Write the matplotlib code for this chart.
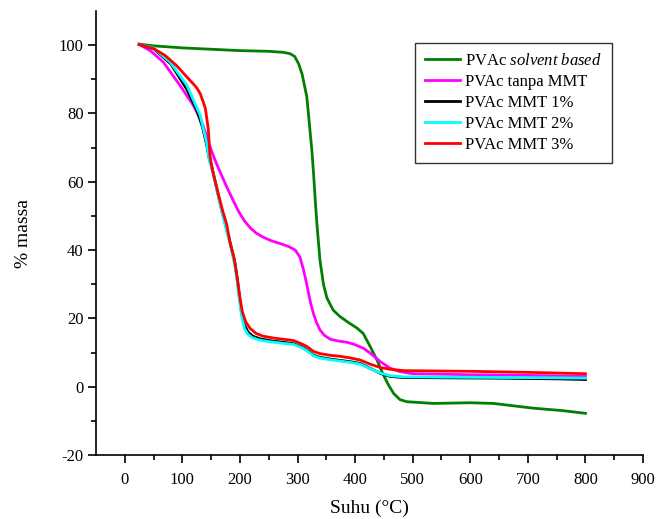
import numpy as np
import matplotlib
matplotlib.use("Agg")
import matplotlib.pyplot as plt

plt.rcParams['font.family'] = ['Liberation Serif', 'DejaVu Serif']
plt.rcParams['mathtext.fontset'] = 'custom'
plt.rcParams['mathtext.rm'] = 'Liberation Serif'
plt.rcParams['mathtext.it'] = 'Liberation Serif:italic'
plt.rcParams['axes.unicode_minus'] = False

# PVAc solvent based
x_solvent = [25, 50, 100, 150, 200, 250, 275, 287, 295, 302, 308, 316, 320, 325, 328, 331, 334, 339, 345,
             351, 362, 374, 391, 403, 414, 426, 438, 449, 458, 467, 478, 490, 536, 600, 640, 710, 760, 800]
y_solvent = [100.3, 99.8, 99.2, 98.8, 98.4, 98.2, 97.9, 97.5, 96.7, 94.5, 91.5, 85, 78, 69, 62, 54, 47, 37, 30,
             26, 22.4, 20.5, 18.5, 17.2, 15.6, 11.8, 7.8, 3.5, 0.5, -2, -3.8, -4.4, -4.9, -4.7, -4.9, -6.3, -7.0, -7.8]

# PVAc tanpa MMT
x_tanpa = [25, 45, 67, 96, 119, 133, 142, 150, 158, 167, 177, 188, 198, 208, 218, 228, 240, 255, 270,
           285, 296, 304, 310, 315, 319, 323, 328, 333, 339, 347, 357, 370, 386, 400, 415, 428, 444, 461,
           478, 500, 600, 700, 800]
y_tanpa = [100.2, 98.3, 95, 88.2, 82.4, 77.8, 73.5, 69.3, 65.8, 62.3, 58.5, 54.6, 51.2, 48.5, 46.5, 45,
           43.8, 42.7, 41.9, 41.0, 40.0, 38, 34.5, 30.8, 27.5, 24.3, 21.2, 18.8, 16.6, 15, 13.9, 13.4,
           13, 12.3, 11.2, 9.6, 7.3, 5.4, 4.4, 3.8, 3.5, 3.3, 3.0]

# PVAc MMT 1%
x_mmt1 = [25, 50, 80, 108, 125, 135, 142, 147, 151, 157, 163, 170, 177, 184, 191, 195, 199, 203, 208,
          214, 222, 235, 255, 275, 293, 305, 316, 328, 339, 356, 374, 392, 409, 426, 444, 461, 484, 550,
          650, 750, 800]
y_mmt1 = [100.2, 99, 94.5, 87, 81, 76, 71, 66.5, 64.5, 60, 55.6, 50.5, 46, 41.5, 36.5, 32, 26.5, 21.5,
          18, 16, 14.8, 14.0, 13.4, 13.0, 12.6, 11.8, 10.8, 9.2, 8.6, 8.1, 7.7, 7.3, 6.8, 5.4, 3.9, 3.0,
          2.7, 2.6, 2.5, 2.3, 2.1]

# PVAc MMT 2%
x_mmt2 = [25, 50, 79, 108, 131, 142, 147, 151, 157, 163, 170, 177, 184, 191, 195, 199, 203, 208, 214,
          222, 235, 255, 275, 293, 305, 316, 328, 339, 356, 374, 392, 409, 426, 444, 461, 484, 550, 650,
          750, 800]
y_mmt2 = [100.2, 99.2, 95, 88.2, 79.4, 71.6, 66, 64, 59.8, 55.2, 50.2, 45.6, 41, 35.5, 31, 25.5, 20.5,
          17, 15.3, 14.3, 13.6, 13.1, 12.7, 12.4, 11.6, 10.6, 9.0, 8.4, 7.9, 7.5, 7.1, 6.6, 5.3, 4.0,
          3.2, 2.9, 2.8, 2.7, 2.6, 2.5]

# PVAc MMT 3%
x_mmt3 = [25, 50, 70, 90, 105, 116, 125, 131, 136, 140, 145, 148, 152, 158, 163, 170, 177, 183, 190,
          196, 200, 204, 210, 218, 228, 240, 260, 280, 293, 305, 316, 328, 339, 356, 374, 392, 409, 426,
          444, 461, 484, 600, 700, 800]
y_mmt3 = [100.2, 99, 97, 94, 91.2, 89.2, 87.5, 85.8, 83.5, 81.4, 75.5, 67.5, 63.5, 59.5, 56, 51.5, 47.5,
          42, 37.5, 31, 26, 22, 19, 17, 15.6, 14.8, 14.2, 13.8, 13.5, 12.7, 11.8, 10.3, 9.7, 9.2, 8.9,
          8.4, 7.8, 6.6, 5.6, 5.1, 4.7, 4.5, 4.2, 3.8]

fig = plt.figure(figsize=(6.64, 5.19), dpi=100)
ax = fig.add_axes([96/664, 1-455/519, (643-96)/664, (455-11)/519])

lw = 2.0
ax.plot(x_solvent, y_solvent, color='#008000', lw=lw, label='PVAc $\\it{solvent\\ based}$')
ax.plot(x_tanpa, y_tanpa, color='#ff00ff', lw=lw, label='PVAc tanpa MMT')
ax.plot(x_mmt1, y_mmt1, color='black', lw=lw, label='PVAc MMT 1%')
ax.plot(x_mmt2, y_mmt2, color='#00ffff', lw=lw, label='PVAc MMT 2%')
ax.plot(x_mmt3, y_mmt3, color='#ff0000', lw=lw, label='PVAc MMT 3%')

ax.set_xlim(-50, 900)
ax.set_ylim(-20, 110)
ax.set_xticks(np.arange(0, 901, 100))
ax.set_xticks(np.arange(50, 900, 100), minor=True)
ax.set_yticks(np.arange(-20, 101, 20))
ax.set_yticks(np.arange(-10, 100, 20), minor=True)
ax.tick_params(which='major', direction='out', length=6, width=1.2, labelsize=12, pad=3)
ax.tick_params(which='minor', direction='out', length=3.5, width=1.2)
ax.tick_params(axis='x', pad=6)

for s in ['top', 'right']:
    ax.spines[s].set_visible(False)
for s in ['left', 'bottom']:
    ax.spines[s].set_linewidth(1.2)

ax.set_xlabel('Suhu (°C)', fontsize=14, labelpad=9)
ax.set_ylabel('% massa', fontsize=14, labelpad=19)

leg = ax.legend(loc='upper right', bbox_to_anchor=(612/664, 1-43/519), bbox_transform=fig.transFigure,
                borderaxespad=0, fontsize=12, frameon=True, fancybox=False, handlelength=2.1,
                labelspacing=0.3, handletextpad=0.3, borderpad=0.6)
leg.get_frame().set_edgecolor('black')
leg.get_frame().set_linewidth(1.0)

fig.savefig('out.png', dpi=100)
